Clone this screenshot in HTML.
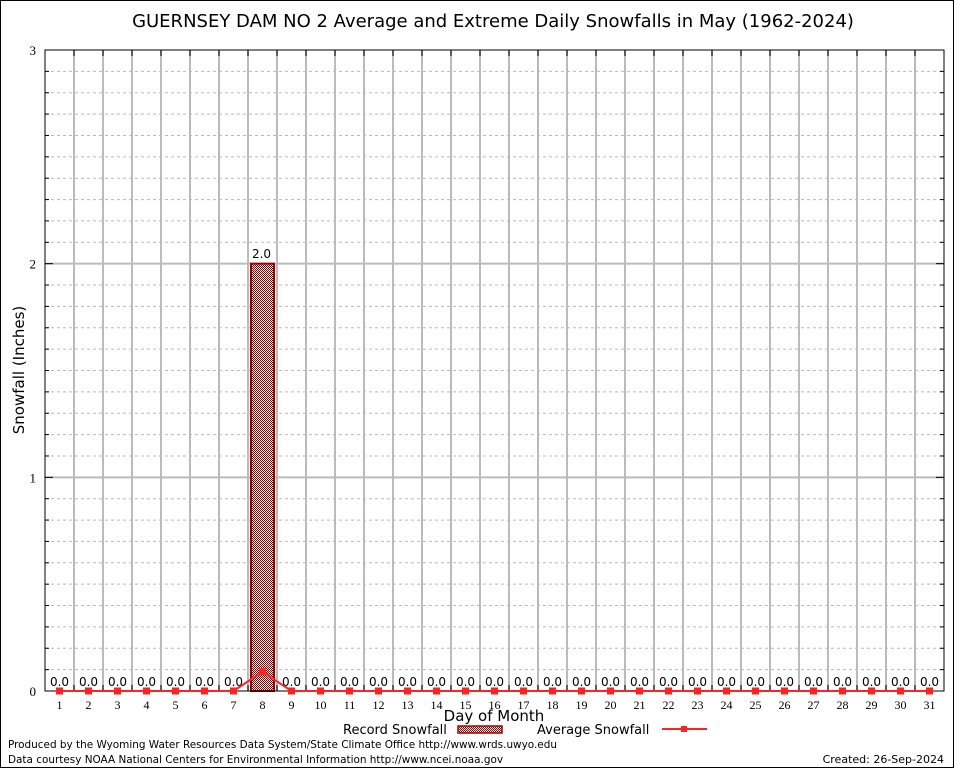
<!DOCTYPE html>
<html><head><meta charset="utf-8"><style>
html,body{margin:0;padding:0;background:#fff}
svg{display:block}
text{font-family:"DejaVu Sans","Liberation Sans",sans-serif}
.t{font-family:"Liberation Serif","DejaVu Serif",serif}
</style></head><body>
<svg id="s" width="954" height="768" xmlns="http://www.w3.org/2000/svg">
<defs>
<pattern id="hp" width="2" height="2" patternUnits="userSpaceOnUse">
<rect width="2" height="2" fill="#fff"/><rect width="1" height="1" fill="#a00000"/><rect x="1" y="1" width="1" height="1" fill="#a00000"/>
</pattern>
</defs>
<rect x="0.5" y="0.5" width="953" height="767" fill="#fff" stroke="#000"/>
<g id="g"></g>
<text x="493" y="27" font-size="18" text-anchor="middle">GUERNSEY DAM NO 2 Average and Extreme Daily Snowfalls in May (1962-2024)</text>
<text x="24" y="370" font-size="15" text-anchor="middle" transform="rotate(-90 24 370)">Snowfall (Inches)</text>
<text x="494" y="721" font-size="15" text-anchor="middle">Day of Month</text>
<text x="343" y="734" font-size="13">Record Snowfall</text>
<rect x="458" y="726" width="44" height="7" fill="url(#hp)" stroke="#a00000" stroke-width="1.5"/>
<text x="537" y="734" font-size="13">Average Snowfall</text>
<line x1="662" y1="729" x2="707" y2="729" stroke="#f22" stroke-width="2"/>
<rect x="681" y="726" width="6" height="6" fill="#f22"/>
<text x="8" y="748" font-size="10.45">Produced by the Wyoming Water Resources Data System/State Climate Office http://www.wrds.uwyo.edu</text>
<text x="8" y="763" font-size="10.45">Data courtesy NOAA National Centers for Environmental Information http://www.ncei.noaa.gov</text>
<text x="944" y="763" font-size="11" text-anchor="end">Created: 26-Sep-2024</text>
</svg>
<script>
var g=document.getElementById('g'),h='';
var L=45,R=944,T=50,B=691,dx=29,py=(B-T)/3;
function Y(v){return B-v*py}
for(var i=1;i<30;i++){if(i%10==0)continue;var y=Y(i/10);h+='<line x1="'+L+'" x2="'+R+'" y1="'+y+'" y2="'+y+'" stroke="#bbb" stroke-dasharray="3,3"/>';h+='<line x1="'+L+'" x2="'+(L+4)+'" y1="'+y+'" y2="'+y+'" stroke="#000"/>';h+='<line x1="'+(R-4)+'" x2="'+R+'" y1="'+y+'" y2="'+y+'" stroke="#000"/>';}
for(var i=1;i<3;i++){var y=Y(i);h+='<line x1="'+L+'" x2="'+R+'" y1="'+y+'" y2="'+y+'" stroke="#bbb" stroke-width="2"/>';h+='<line x1="'+L+'" x2="'+(L+8)+'" y1="'+y+'" y2="'+y+'" stroke="#000"/><line x1="'+(R-8)+'" x2="'+R+'" y1="'+y+'" y2="'+y+'" stroke="#000"/>';}
for(var k=1;k<31;k++){var x=L+k*dx;h+='<line x1="'+x+'" x2="'+x+'" y1="'+T+'" y2="'+B+'" stroke="#bbb" stroke-width="2"/>';h+='<line x1="'+x+'" x2="'+x+'" y1="'+T+'" y2="'+(T+6)+'" stroke="#000"/><line x1="'+x+'" x2="'+x+'" y1="'+(B-6)+'" y2="'+B+'" stroke="#000"/>';}
for(var i=0;i<4;i++){h+='<text class="t" x="36" y="'+(Y(i)+5)+'" font-size="13" text-anchor="end">'+i+'</text>';}
var bx=L+7*dx+3;h+='<rect x="'+bx+'" y="'+Y(2)+'" width="23" height="'+(B-Y(2))+'" fill="url(#hp)" stroke="#a00000" stroke-width="2"/>';
h+='<rect x="'+L+'" y="'+T+'" width="'+(R-L)+'" height="'+(B-T)+'" fill="none" stroke="#000"/>';
var pts=[];
for(var d=1;d<=31;d++){var cx=L+(d-0.5)*dx;var v=d==8?0.09:0;pts.push(cx+','+Y(v));
h+='<text class="t" x="'+cx+'" y="709" font-size="12" text-anchor="middle">'+d+'</text>';
if(d==8)h+='<text x="'+(cx-1)+'" y="258" font-size="12" text-anchor="middle">2.0</text>';
else h+='<text x="'+cx+'" y="686" font-size="12" text-anchor="middle">0.0</text>';}
h+='<polyline points="'+pts.join(' ')+'" fill="none" stroke="#f22" stroke-width="2"/>';
pts.forEach(function(p){var a=p.split(',');h+='<rect x="'+(a[0]-3.5)+'" y="'+(a[1]-3.5)+'" width="7" height="7" fill="#f22"/>';});
g.innerHTML=h;
</script>
</body></html>
